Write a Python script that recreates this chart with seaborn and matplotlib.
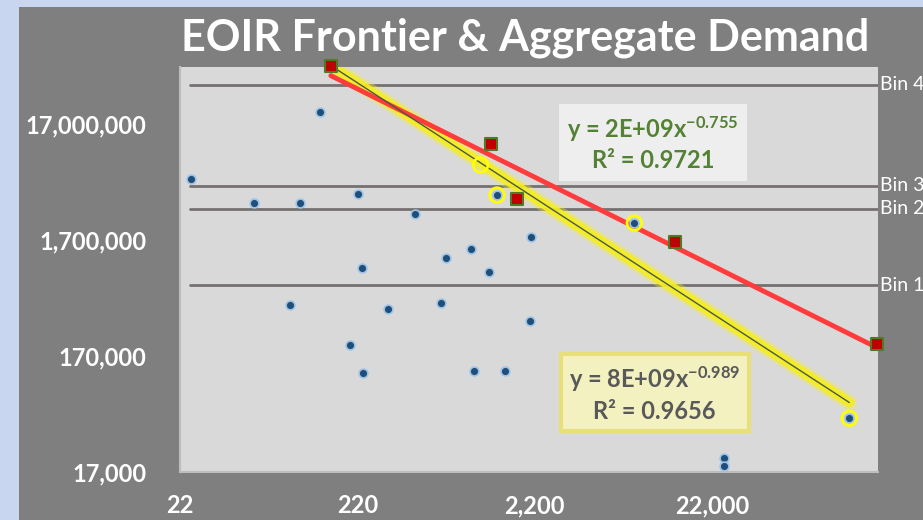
#%% Imports

import numpy as np
import pandas as pd
import matplotlib as mpl
mpl.use('Agg')
import matplotlib.pyplot as plt
import seaborn as sns

#%% Data

# all demand points (blue dots)
demand_x = [25.3, 57.5, 104.5, 135.6, 222, 233, 463.6, 699, 959, 1209, 2099,
            92.2, 329, 201, 237, 655, 1001, 1504, 2072, 25850, 25850,
            1350, 8030, 131000]
demand_y = [5.74e6, 3.52e6, 3.52e6, 21.4e6, 4.26e6, 975000, 2.83e6, 1.18e6, 1.43e6, 906000, 1.816e6,
            468000, 430000, 211000, 120600, 490000, 125500, 125500, 338000, 22600, 19260,
            4.15e6, 2.38e6, 49400]

# frontier points (yellow trend)
frontier_x = [156, 1092, 1350, 8030, 131000]
frontier_y = [53.8e6, 7.53e6, 4.15e6, 2.38e6, 49400]

# aggregate demand points (red squares)
agg_x = [156, 1254, 1744, 13630, 186900]
agg_y = [53.8e6, 11.5e6, 3.86e6, 1.644e6, 215700]

bin_values = [692000, 3.15e6, 4.97e6, 36.9e6]
bin_labels = ['Bin 1', 'Bin 2', 'Bin 3', 'Bin 4']

x_ticks = [22, 220, 2200, 22000]
y_ticks = [17000, 170000, 1700000, 17000000]

green_eq = 'y = 2E+09x$^{-0.755}$\nR² = 0.9721'
yellow_eq = 'y = 8E+09x$^{-0.989}$\nR² = 0.9656'

#%% Power-law fits (Excel style trendlines)

def power_fit(x, y):
    b, a = np.polyfit(np.log10(x), np.log10(y), 1)
    xs = np.array([min(x), max(x)])
    return pd.DataFrame({'x': xs, 'y': 10**a * xs**b})

frontier_fit = power_fit(frontier_x, frontier_y)
agg_fit = power_fit(agg_x, agg_y)

#%% Plot

sns.set_style('white')
plt.rcParams['font.family'] = ['Lato', 'DejaVu Sans']
plt.rcParams['mathtext.fontset'] = 'custom'
plt.rcParams['mathtext.rm'] = 'Lato:bold'
plt.rcParams['mathtext.it'] = 'Lato:bold'
plt.rcParams['mathtext.bf'] = 'Lato:bold'

fig = plt.figure(figsize=(9.23, 5.2), dpi=100)
fig.patch.set_facecolor('#c8d7ef')
panel = mpl.patches.Rectangle((19/923, 0), 1, 1 - 7/520, transform=fig.transFigure,
                              facecolor='#7f7f7f', edgecolor='none', zorder=-5)
fig.add_artist(panel)

ax = fig.add_axes([0.195, 0.0923, 0.7563, 0.7789])
ax.set_zorder(1)
ax.set_facecolor('#d9d9d9')
ax.set_xscale('log')
ax.set_yscale('log')

for v in bin_values:
    ax.axhline(v, xmin=0.014, xmax=1, color='#767171', lw=2, zorder=1)

# yellow glowing frontier trendline
sns.lineplot(data=frontier_fit, x='x', y='y', ax=ax, color='#f7ef2a', lw=11, alpha=0.35, zorder=2)
sns.lineplot(data=frontier_fit, x='x', y='y', ax=ax, color='#f5ee1e', lw=7, alpha=0.9, zorder=2)
sns.lineplot(data=agg_fit, x='x', y='y', ax=ax, color='#ff3b3b', lw=3.5, zorder=3)
sns.lineplot(data=frontier_fit, x='x', y='y', ax=ax, color='#4a5846', lw=1, zorder=4)

sns.scatterplot(x=demand_x, y=demand_y, ax=ax, marker='o', s=40, color='#1f4e79',
                edgecolor='#9dc3e6', linewidth=1.2, zorder=5)
ax.scatter(frontier_x[1:], frontier_y[1:], s=110, facecolor='none', edgecolor='#ffff00',
           linewidth=2, zorder=6)
sns.scatterplot(x=agg_x, y=agg_y, ax=ax, marker='s', s=80, color='#c00000',
                edgecolor='#4f7a28', linewidth=1.5, zorder=7, clip_on=False)

ax.set_xlim(22, 190300)
ax.set_ylim(17000, 52.7e6)
ax.set_xticks(x_ticks)
ax.set_yticks(y_ticks)
ax.minorticks_off()
ax.xaxis.set_major_formatter(mpl.ticker.StrMethodFormatter('{x:,.0f}'))
ax.yaxis.set_major_formatter(mpl.ticker.StrMethodFormatter('{x:,.0f}'))
ax.tick_params(axis='both', length=0, colors='white', labelsize=17)
ax.tick_params(axis='y', pad=24)
ax.tick_params(axis='x', pad=16)
for lab in ax.get_xticklabels() + ax.get_yticklabels():
    lab.set_fontweight('bold')
ax.set_xlabel('')
ax.set_ylabel('')

for s in ['top', 'right']:
    ax.spines[s].set_visible(False)
for s in ['left', 'bottom']:
    ax.spines[s].set_color('#bdbdbd')
    ax.spines[s].set_linewidth(1.5)

trans = mpl.transforms.blended_transform_factory(ax.transAxes, ax.transData)
for v, lab in zip(bin_values, bin_labels):
    ax.text(1.003, v, lab, transform=trans, ha='left', va='center', color='white', fontsize=14)

ax.text(0.678, 0.812, green_eq, transform=ax.transAxes, ha='center', va='center',
        fontsize=17, fontweight='bold', color='#548235', linespacing=1.3,
        bbox=dict(boxstyle='square,pad=0.35', facecolor='#eeeeee', edgecolor='none'), zorder=8)
ax.text(0.680, 0.193, yellow_eq, transform=ax.transAxes, ha='center', va='center',
        fontsize=17, fontweight='bold', color='#595959', linespacing=1.3,
        bbox=dict(boxstyle='square,pad=0.35', facecolor='#f3f1c0', edgecolor='#e9df7a', linewidth=3), zorder=8)

fig.text(0.569, 0.927, 'EOIR Frontier & Aggregate Demand', ha='center', va='center',
         fontsize=31, fontweight='bold', color='white')

fig.savefig('out.png', dpi=100, facecolor=fig.get_facecolor())
